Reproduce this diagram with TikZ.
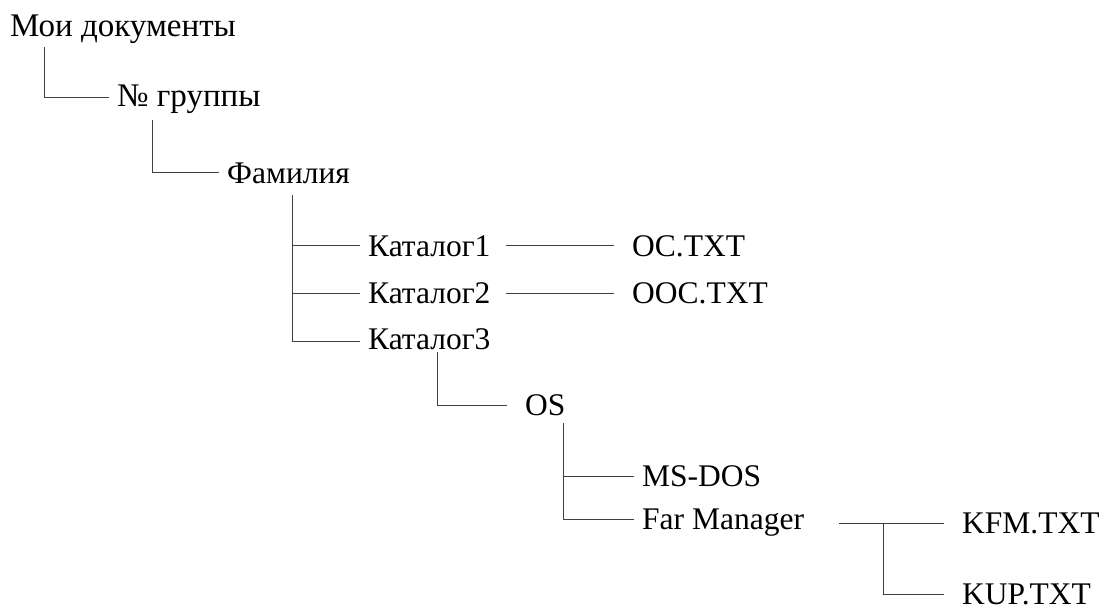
\documentclass[tikz,border=0pt]{standalone}
\usepackage{fontspec}
\setmainfont{Liberation Serif}
\usepackage{tikz}

\tikzset{
  item/.style={anchor=west, inner xsep=8pt, inner ysep=0pt,
    text height=21pt, text depth=0pt, font=\fontsize{31.5}{38}\selectfont},
  top/.style={item, text height=22pt, font=\fontsize{33}{40}\selectfont},
  file/.style={item, inner xsep=18pt},
  wire/.style={draw=black!75, line width=1pt}
}

\begin{document}
\begin{tikzpicture}[x=1pt, y=-1pt]
\useasboundingbox (0,0) rectangle (1102,612);

% Folders
\node[top] (docs) at (2,26) {Мои документы};
\node[top] (grp) at (109,96) {№ группы};
\node[item] (fam) at (219,173) {Фамилия};
\node[item] (kat1) at (360,246) {Каталог1};
\node[item] (kat2) at (360,293) {Каталог2};
\node[item] (kat3) at (360,339) {Каталог3};
\node[file] (os) at (507,405) {OS};
\node[item] (msdos) at (634,476) {MS-DOS};
\node[item] (far) at (634,519) {Far Manager};

% Files
\node[file] (oc) at (614,246) {OC.TXT};
\node[file] (ooc) at (614,293) {OOC.TXT};
\node[file] (kfm) at (944,523) {KFM.TXT};
\node[file] (kup) at (944,594) {KUP.TXT};

% Tree lines
\draw[wire] (docs.west) ++(42,21) |- ([yshift=-2pt]grp.west);
\draw[wire] (grp.west) ++(43,24) |- (fam.west);
\path (fam.west) ++(73,22) coordinate (famtop);
\draw[wire] (famtop) |- ([yshift=-2pt]kat3.west);
\foreach \k in {kat1,kat2}
  \draw[wire] (famtop |- \k.west) -- (\k.west);
\draw[wire] (kat3.west) ++(77,13) |- (os.west);
\path (os.west) ++(56,18) coordinate (ostop);
\draw[wire] (ostop) |- (far.west);
\draw[wire] (ostop |- msdos.west) -- (msdos.west);

% Links to files
\draw[wire] ([xshift=7pt]kat1.east) -- (oc.west);
\draw[wire] ([xshift=7pt]kat2.east) -- (ooc.west);
\draw[wire] ([xshift=27pt]far.east |- kfm.west) -- (kfm.west);
\draw[wire] (kfm.west) ++(-61,0) |- (kup.west);
\end{tikzpicture}
\end{document}
